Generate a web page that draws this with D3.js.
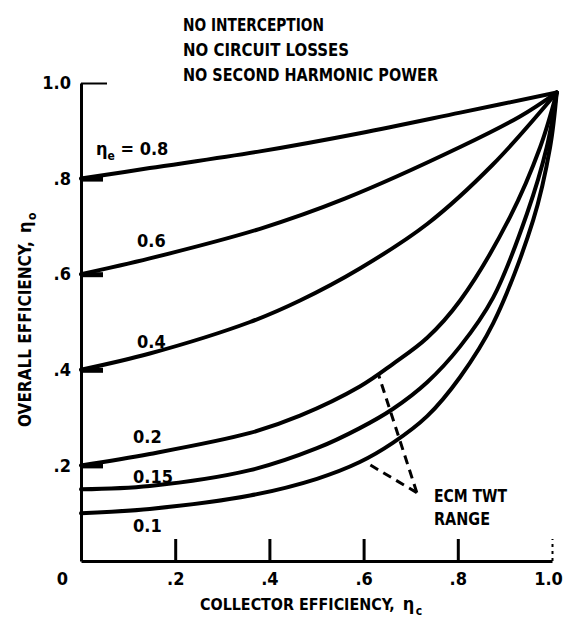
<!DOCTYPE html>
<html>
<head>
<meta charset="utf-8">
<script src="https://cdn.jsdelivr.net/npm/d3@7/dist/d3.min.js"></script>
<style>
  html, body { margin: 0; padding: 0; background: #fff; }
  svg { display: block; }
  text { font-family: 'DejaVu Sans Condensed', 'DejaVu Sans', sans-serif; font-weight: bold; fill: #000; }
</style>
</head>
<body>
<svg id="chart" width="577" height="624"></svg>
<script>
// ---------- data ----------
const titleLines = ["NO INTERCEPTION", "NO CIRCUIT LOSSES", "NO SECOND HARMONIC POWER"];
const xTickValues = [0, 0.2, 0.4, 0.6, 0.8, 1.0];
const xTickLabels = ["0", ".2", ".4", ".6", ".8", "1.0"];
const yTickValues = [0.2, 0.4, 0.6, 0.8, 1.0];
const yTickLabels = [".2", ".4", ".6", ".8", "1.0"];

// electronic efficiency curves: [collector efficiency, overall efficiency]
const curve080 = [[0, 0.80], [0.146, 0.822], [0.38, 0.857], [0.592, 0.895], [0.805, 0.938], [1.01, 0.98]];
const curve060 = [[0, 0.60], [0.146, 0.633], [0.38, 0.695], [0.56, 0.758], [0.805, 0.866], [0.932, 0.93], [1.01, 0.98]];
const curve040 = [[0, 0.40], [0.146, 0.434], [0.359, 0.50], [0.465, 0.545], [0.592, 0.612], [0.735, 0.705], [0.875, 0.83], [1.01, 0.98]];
const curve020 = [[0, 0.20], [0.146, 0.224], [0.359, 0.268], [0.465, 0.304], [0.592, 0.365], [0.662, 0.412], [0.735, 0.467], [0.805, 0.545], [0.911, 0.72], [0.975, 0.866], [1.01, 0.98]];
const curve015 = [[0, 0.15], [0.146, 0.157], [0.359, 0.19], [0.501, 0.236], [0.592, 0.278], [0.662, 0.318], [0.735, 0.374], [0.805, 0.449], [0.875, 0.551], [0.947, 0.727], [0.989, 0.866], [1.01, 0.98]];
const curve010 = [[0, 0.10], [0.146, 0.109], [0.359, 0.137], [0.501, 0.172], [0.592, 0.207], [0.662, 0.247], [0.735, 0.303], [0.805, 0.385], [0.875, 0.497], [0.96, 0.713], [0.996, 0.866], [1.01, 0.98]];
const curves = [curve080, curve060, curve040, curve020, curve015, curve010];
const curveLabels = ["0.8", "0.6", "0.4", "0.2", "0.15", "0.1"];

// ECM TWT range annotation (dashed leaders): apex and the two curve points
const ecmApex = [0.713, 0.143];
const ecmTargets = [[0.631, 0.392], [0.607, 0.205]];
const ecmText = ["ECM TWT", "RANGE"];

// ---------- chart ----------
const FONT = "'DejaVu Sans Condensed', 'DejaVu Sans', sans-serif";
const svg = d3.select("#chart");
const x = d3.scaleLinear().domain([0, 1]).range([81, 552]);
const y = d3.scaleLinear().domain([0, 1]).range([561, 83]);

// title
svg.append("g").selectAll("text").data(titleLines).join("text")
  .attr("x", 183)
  .attr("y", (d, i) => [31, 56, 81][i])
  .attr("font-size", 18)
  .attr("textLength", (d, i) => [141, 166, 255][i])
  .attr("lengthAdjust", "spacingAndGlyphs")
  .text(d => d);

// x axis
const xAxis = d3.axisBottom(x)
  .tickValues(xTickValues)
  .tickFormat((d, i) => xTickLabels[i])
  .tickSize(-22)
  .tickSizeOuter(0);
const gx = svg.append("g").attr("transform", `translate(0,${y(0)})`).call(xAxis);
gx.select(".domain").attr("stroke", "#000").attr("stroke-width", 3);
gx.selectAll(".tick line").attr("stroke", "#000")
  .attr("stroke-dasharray", d => d === 1 ? "3,4" : null)
  .attr("stroke-width", d => d === 1 ? 2 : 3);
gx.selectAll(".tick").filter(d => d === 0).select("line").remove();
gx.selectAll(".tick text")
  .attr("font-size", 18)
  .attr("font-family", FONT)
  .attr("font-weight", "bold")
  .attr("fill", "#000")
  .attr("dy", "0")
  .attr("y", 24)
  .attr("dx", d => d === 0 ? -19 : (d === 1 ? -4 : 0));

// y axis
const yAxis = d3.axisLeft(y)
  .tickValues(yTickValues)
  .tickFormat((d, i) => yTickLabels[i])
  .tickSize(-22)
  .tickSizeOuter(0)
  .tickPadding(10);
const gy = svg.append("g").attr("transform", `translate(${x(0)},0)`).call(yAxis);
gy.select(".domain").attr("stroke", "#000").attr("stroke-width", 3);
gy.selectAll(".tick line").attr("stroke", "#000")
  .attr("stroke-width", d => d === 1 ? 2 : 5)
  .attr("x2", d => d === 1 ? 26 : 22);
gy.selectAll(".tick text")
  .attr("font-size", 18)
  .attr("font-family", FONT)
  .attr("font-weight", "bold")
  .attr("fill", "#000");

// curves
const line = d3.line().x(d => x(d[0])).y(d => y(d[1])).curve(d3.curveCatmullRom.alpha(0.5));
svg.append("g").selectAll("path").data(curves).join("path")
  .attr("d", line)
  .attr("fill", "none")
  .attr("stroke", "#000")
  .attr("stroke-width", 4)
  .attr("stroke-linejoin", "round")
  .attr("stroke-linecap", "round");

// curve labels
const labelPos = [[96, 155], [137, 247], [137, 348], [133, 443], [133, 483], [133, 532]];
const lg = svg.append("g");
curveLabels.forEach((t, i) => {
  const tx = lg.append("text").attr("x", labelPos[i][0]).attr("y", labelPos[i][1]).attr("font-size", 18);
  if (i === 0) {
    tx.append("tspan").text("η");
    tx.append("tspan").attr("font-size", 12).attr("dy", 5).text("e");
    tx.append("tspan").attr("dy", -5).text(" = " + t);
  } else {
    tx.text(t);
  }
});

// ECM TWT range annotation
svg.append("g").selectAll("line").data(ecmTargets).join("line")
  .attr("x1", x(ecmApex[0])).attr("y1", y(ecmApex[1]))
  .attr("x2", d => x(d[0])).attr("y2", d => y(d[1]))
  .attr("stroke", "#000").attr("stroke-width", 3)
  .attr("stroke-dasharray", "9,6");
svg.append("g").selectAll("text").data(ecmText).join("text")
  .attr("x", 434)
  .attr("y", (d, i) => [502, 525][i])
  .attr("font-size", 17)
  .attr("textLength", (d, i) => [73, 56][i])
  .attr("lengthAdjust", "spacingAndGlyphs")
  .text(d => d);

// axis title helper: main text fitted to a target width, then η with subscript
function axisTitle(g, mainText, width, sub) {
  const main = g.append("text").attr("x", 0).attr("y", 0).attr("font-size", 18).text(mainText);
  const w = main.node().getComputedTextLength();
  const fs = Math.min(18, 18 * width / w);
  main.attr("font-size", fs);
  const w2 = main.node().getComputedTextLength();
  g.append("text").attr("x", w2 + 8).attr("y", 0).attr("font-size", 18).text("η");
  g.append("text").attr("x", w2 + 21).attr("y", 5).attr("font-size", 12).text(sub);
}
axisTitle(svg.append("g").attr("transform", "translate(200,610)"), "COLLECTOR EFFICIENCY,", 195, "c");
axisTitle(svg.append("g").attr("transform", "translate(31,427) rotate(-90)"), "OVERALL EFFICIENCY,", 186, "o");
</script>
</body>
</html>
